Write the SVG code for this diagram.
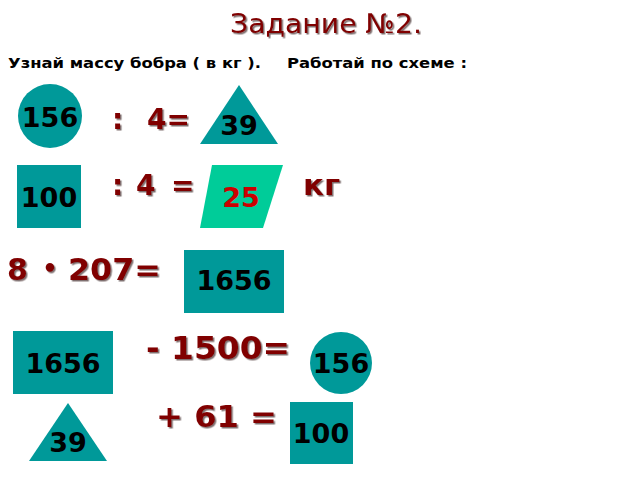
<svg xmlns="http://www.w3.org/2000/svg" width="640" height="480" viewBox="0 0 640 480">
<defs>
<filter id="sh" x="-10%" y="-20%" width="130%" height="150%">
<feDropShadow dx="1.5" dy="1.5" stdDeviation="0.6" flood-color="#4a3030" flood-opacity="0.7"/>
</filter>
</defs>
<style>
text{font-family:"DejaVu Sans","Liberation Sans",sans-serif}
.red{fill:#800000;font-weight:bold;font-size:30px;filter:url(#sh)}
.title{fill:#800000;font-size:27px;filter:url(#sh)}
.sub{fill:#000;font-weight:bold;font-size:14px}
.num{fill:#000;font-weight:bold;font-size:27px;text-anchor:middle}
.teal{fill:#009999}
.green{fill:#00cc99}
</style>
<rect width="640" height="480" fill="#fff"/>
<text class="title" x="326" y="33" text-anchor="middle" textLength="192" lengthAdjust="spacingAndGlyphs">Задание №2.</text>
<text class="sub" x="8" y="68" textLength="253" lengthAdjust="spacingAndGlyphs">Узнай массу бобра ( в кг ).</text>
<text class="sub" x="287" y="68" textLength="180" lengthAdjust="spacingAndGlyphs">Работай по схеме :</text>

<g id="row1">
<g id="circle1"><circle class="teal" cx="50" cy="116" r="32"/><text class="num" x="50" y="127">156</text></g>
<text class="red" y="129" style="font-size:28px"><tspan x="112">:</tspan><tspan x="147">4=</tspan></text>
<g id="tri1"><polygon class="teal" points="239,85 200,144 278,144"/><text class="num" x="239" y="135">39</text></g>
</g>

<g id="row2">
<g id="sq1"><rect class="teal" x="17" y="165" width="64" height="63"/><text class="num" x="49" y="207">100</text></g>
<text class="red" y="195" style="font-size:28px"><tspan x="112">:</tspan><tspan x="136">4</tspan><tspan x="171">=</tspan></text>
<g id="para"><polygon class="green" points="212,165 283,165 263,228 200,228"/><text class="num" x="241" y="207" style="fill:#cc0000">25</text></g>
<text class="red" x="303" y="195" style="font-size:28px" textLength="37" lengthAdjust="spacingAndGlyphs">кг</text>
</g>

<g id="row3">
<text class="red" x="7" y="280">8</text>
<text class="red" x="50" y="277" text-anchor="middle" style="font-size:24px">•</text>
<text class="red" x="68" y="280" textLength="93" lengthAdjust="spacingAndGlyphs">207=</text>
<g id="rect1"><rect class="teal" x="184" y="250" width="100" height="63"/><text class="num" x="234" y="290">1656</text></g>
</g>

<g id="row4">
<g id="rect2"><rect class="teal" x="13" y="331" width="100" height="63"/><text class="num" x="63" y="373">1656</text></g>
<text class="red" x="146" y="359" style="font-size:32px" textLength="144" lengthAdjust="spacingAndGlyphs">- 1500=</text>
<g id="circle2"><circle class="teal" cx="341" cy="363" r="31"/><text class="num" x="341" y="373">156</text></g>
</g>

<g id="row5">
<g id="tri2"><polygon class="teal" points="68,403 29,461 107,461"/><text class="num" x="68" y="452">39</text></g>
<text class="red" x="156" y="427" textLength="121" lengthAdjust="spacingAndGlyphs">+ 61 =</text>
<g id="sq2"><rect class="teal" x="290" y="402" width="63" height="62"/><text class="num" x="321" y="443">100</text></g>
</g>

<g id="connectors"/>
</svg>
